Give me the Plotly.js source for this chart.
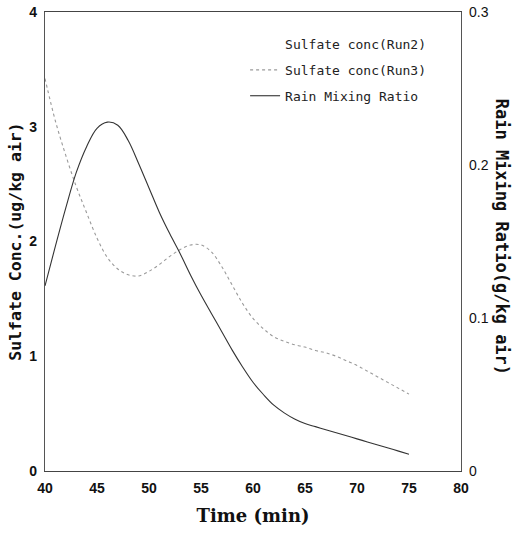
<!DOCTYPE html>
<html>
<head>
<meta charset="utf-8">
<script src="https://cdn.plot.ly/plotly-3.0.1.min.js"></script>
<style>html,body{margin:0;padding:0;background:#fff;}#chart{width:515px;height:536px;}</style>
</head>
<body>
<div id="chart"></div>
<script>
// Time (min)
const time = [40,41,42,43,44,45,46,47,48,49,50,51,52,53,54,55,56,57,58,59,60,61,62,63,64,65,66,67,68,69,70,71,72,73,74,75];
// Sulfate conc (Run2) - listed in the legend but not visible in the figure
const run2Time = [null];
const run2 = [null];
// Sulfate conc (Run3), ug/kg air
const run3 = [3.42,3.05,2.75,2.48,2.25,2.03,1.86,1.76,1.71,1.70,1.74,1.80,1.87,1.93,1.97,1.97,1.91,1.78,1.62,1.46,1.33,1.24,1.17,1.13,1.10,1.08,1.05,1.03,1.00,0.96,0.92,0.87,0.82,0.77,0.72,0.67];
// Rain mixing ratio, g/kg air
const rain = [0.121,0.147,0.172,0.195,0.212,0.224,0.228,0.226,0.216,0.201,0.185,0.169,0.155,0.142,0.128,0.115,0.103,0.091,0.079,0.068,0.058,0.050,0.043,0.038,0.034,0.031,0.029,0.027,0.025,0.023,0.021,0.019,0.017,0.015,0.013,0.011];

const xTicks = [40,45,50,55,60,65,70,75,80];
const yTicks = [0,1,2,3,4];
const y2Ticks = [0,0.1,0.2,0.3];

const traces = [
  {x: run2Time, y: run2, name: 'Sulfate conc(Run2)', mode: 'lines', legendgroup: 'a',
   line: {color: 'rgba(0,0,0,0)', width: 1}, yaxis: 'y'},
  {x: time, y: run3, name: 'Sulfate conc(Run3)', mode: 'lines', legendgroup: 'b',
   line: {color: '#9a9a9a', width: 1.1, dash: 'dot', shape: 'spline'}, yaxis: 'y'},
  {x: time, y: rain, name: 'Rain Mixing Ratio', mode: 'lines', legendgroup: 'c',
   line: {color: '#333', width: 1.1, shape: 'spline'}, yaxis: 'y2'}
];

const tickFont = {family: 'Liberation Sans, Arial, sans-serif', size: 14, color: '#111', weight: 'bold'};
const titleFont = 'DejaVu Sans Mono, monospace';

const layout = {
  width: 515, height: 536,
  margin: {l: 45, r: 54, t: 12, b: 65},
  paper_bgcolor: '#fff', plot_bgcolor: '#fff',
  showlegend: true,
  legend: {x: 0.481, y: 0.963, xanchor: 'left', yanchor: 'top', bgcolor: 'rgba(0,0,0,0)',
           font: {family: 'DejaVu Sans Mono, monospace', size: 13, color: '#222'},
           tracegroupgap: 6},
  xaxis: {range: [40, 80], tickvals: xTicks, ticks: '', showgrid: false, zeroline: false,
          showline: true, linecolor: '#444', linewidth: 1.2, mirror: true,
          tickfont: tickFont, ticklabelstandoff: 4,
          title: {text: 'Time (min)', font: {family: 'DejaVu Serif, serif', size: 18, color: '#111', weight: 'bold'}, standoff: 14}},
  yaxis: {range: [0, 4], tickvals: yTicks, ticks: '', showgrid: false, zeroline: false,
          showline: true, linecolor: '#555', linewidth: 1.2,
          tickfont: tickFont, ticklabelstandoff: 4,
          title: {text: 'Sulfate Conc.(ug/kg air)', font: {family: titleFont, size: 16.5, color: '#111', weight: 'bold'}, standoff: 3}},
  yaxis2: {range: [0, 0.3], tickvals: y2Ticks, overlaying: 'y', side: 'right', ticks: '',
           showgrid: false, zeroline: false, showline: true, linecolor: '#555', linewidth: 1.2,
           tickfont: {family: 'Liberation Sans, Arial, sans-serif', size: 14, color: '#111'},
           ticklabelstandoff: 4},
  annotations: [
    {text: 'Rain Mixing Ratio(g/kg air)', xref: 'paper', yref: 'paper', x: 1.099, y: 0.51,
     xanchor: 'center', yanchor: 'middle', textangle: 90, showarrow: false,
     font: {family: titleFont, size: 17, color: '#111', weight: 'bold'}}
  ]
};

Plotly.newPlot('chart', traces, layout, {displayModeBar: false, staticPlot: true});
</script>
</body>
</html>
